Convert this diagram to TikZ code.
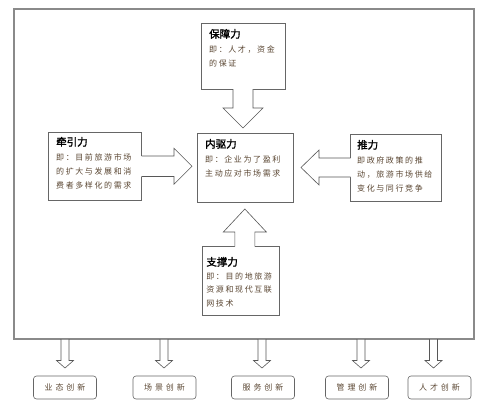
\documentclass[tikz,border=0pt]{standalone}
\usepackage{fontspec}
\setmainfont{Noto Sans CJK SC}
\newfontfamily\bodyfont[LetterSpace=20]{Noto Sans CJK SC}
\newfontfamily\titlefont[FakeBold=1.5]{Noto Sans CJK SC}
\newfontfamily\labelfont[LetterSpace=37]{Noto Sans CJK SC}
\usetikzlibrary{calc}
\definecolor{bodytxt}{HTML}{5A4632}
\definecolor{boxline}{HTML}{666666}
\definecolor{frameline}{HTML}{8A8A8A}
\newcommand{\ttl}[1]{{\titlefont\fontsize{10.5}{10.5}\selectfont\color{black}#1}}
% flecha de bloque: [inicio relleno]{origen}{angulo}{largo}{media asta}{media punta}{largo punta}
\newcommand{\blockarrow}[7][-1.5]{%
  \begin{scope}[shift={(#2)},rotate=#3]
    \fill[white] (#1,#5) -- (#4-#7,#5) -- (#4-#7,#6) -- (#4,0) -- (#4-#7,-#6) -- (#4-#7,-#5) -- (#1,-#5) -- cycle;
    \draw[arrowline] (0,#5) -- (#4-#7,#5) -- (#4-#7,#6) -- (#4,0) -- (#4-#7,-#6) -- (#4-#7,-#5) -- (0,-#5);
  \end{scope}}
\begin{document}
\begin{tikzpicture}[x=1pt,y=-1pt,
  forcebox/.style={draw=boxline,line width=0.6pt,inner sep=0,outer sep=0},
  forcetxt/.style={anchor=north west,inner sep=0,align=left,text=bodytxt,font=\bodyfont\fontsize{8}{14.3}\selectfont},
  arrowline/.style={draw=boxline!85!black,line width=0.6pt,line join=miter},
  innov/.style={draw=boxline,line width=0.6pt,rounded corners=3pt,minimum width=63pt,minimum height=23pt,inner sep=0,text=bodytxt,font=\labelfont\fontsize{8}{8}\selectfont}]
  \useasboundingbox (0,0) rectangle (479,405);

  % Marco
  \node[draw=frameline,line width=1.2pt,inner sep=0,outer sep=0,minimum width=460pt,minimum height=330pt] (frame) at (244,174) {};

  % Cajas de fuerzas
  \node[forcebox,minimum width=84pt,minimum height=66pt] (bzbox) at (243,56) {};
  \node[forcebox,minimum width=93.5pt,minimum height=68.5pt] (qybox) at (94.75,166.25) {};
  \node[forcebox,minimum width=96pt,minimum height=69.5pt] (nqbox) at (245,167.75) {};
  \node[forcebox,minimum width=91.2pt,minimum height=67.7pt] (tlbox) at (396.1,167.85) {};
  \node[forcebox,minimum width=76.3pt,minimum height=68.3pt] (zcbox) at (240.85,280.85) {};

  % Flechas hacia el centro
  \blockarrow{bzbox.south}{-90}{39}{10}{20}{20}
  \blockarrow{qybox.east}{0}{50.5}{10.25}{18}{18}
  \blockarrow{$(tlbox.west)+(0,-0.35)$}{180}{49.5}{9.5}{17.5}{18}
  \blockarrow{$(zcbox.north)+(4,0)$}{90}{37.7}{10}{21.5}{23}

  % Textos
  \node[forcetxt] (bz) at ($(bzbox.north west)+(8,5.8)$) {\ttl{保障力}\\即：人才，资金\\的保证};
  \node[forcetxt] (qy) at ($(qybox.north west)+(8,4.8)$) {\ttl{牵引力}\\即：目前旅游市场\\的扩大与发展和消\\费者多样化的需求};
  \node[forcetxt] (nq) at ($(nqbox.north west)+(8,5.8)$) {\ttl{内驱力}\\即：企业为了盈利\\主动应对市场需求};
  \node[forcetxt] (tl) at ($(tlbox.north west)+(6.5,5.8)$) {\ttl{推力}\\即政府政策的推\\动，旅游市场供给\\变化与同行竞争};
  \node[forcetxt,font=\bodyfont\fontsize{8}{13.5}\selectfont] (zc) at ($(zcbox.north west)+(3.5,10.1)$) {\ttl{支撑力}\\即：目的地旅游\\资源和现代互联\\网技术};

  % Innovaciones
  \foreach \name/\x/\txt in {yt/65/业态创新, cj/164.5/场景创新, fw/263/服务创新, gl/357/管理创新, rc/439.5/人才创新}
    \node[innov] (\name) at (\x,387.5) {\txt};
  \foreach \name/\dx in {yt/0, cj/-0.5, fw/-1, gl/4, rc/-6}{
    \blockarrow[0.8]{$(frame.south -| \name.north)+(\dx,0)$}{-90}{29}{4}{8.5}{7.5}
  }
\end{tikzpicture}
\end{document}
